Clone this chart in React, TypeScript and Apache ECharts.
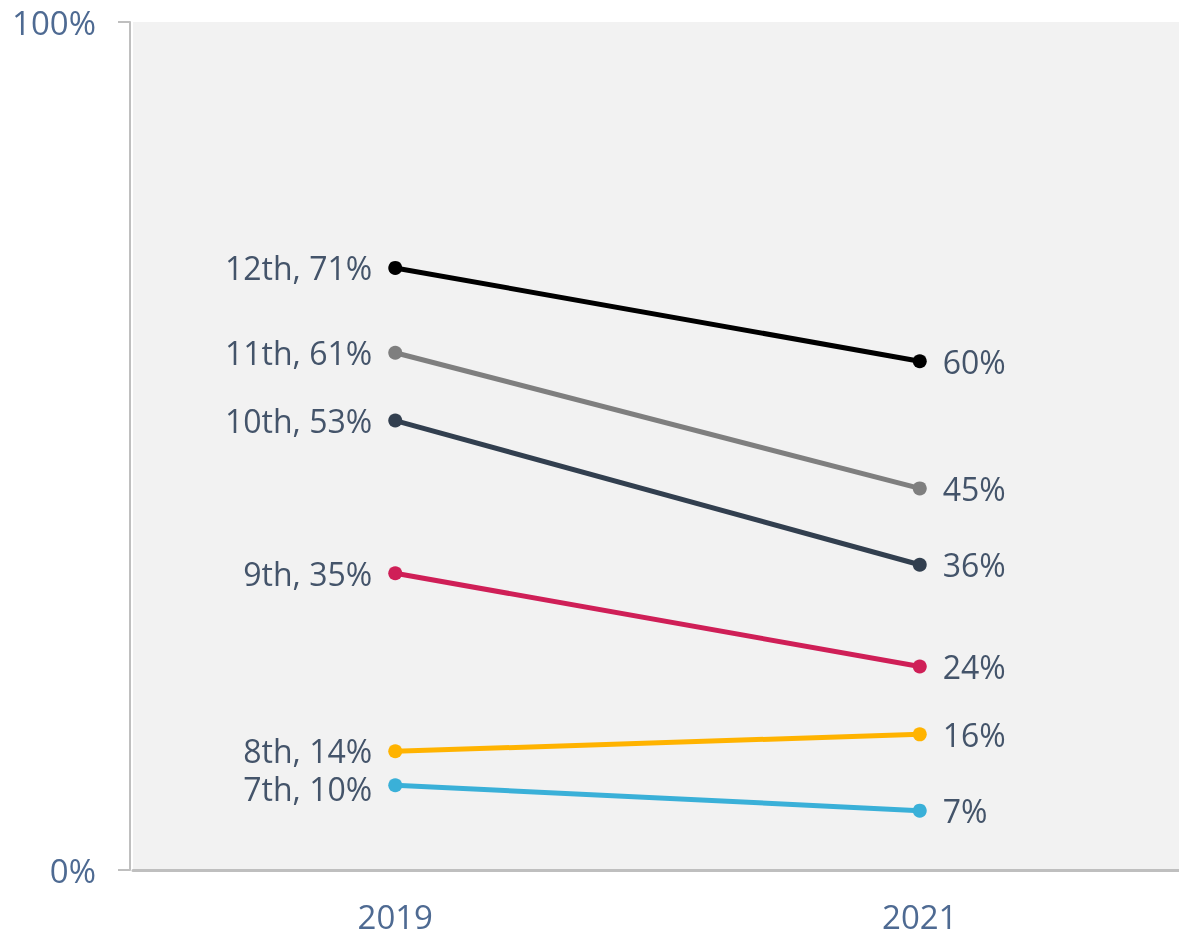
import React, { useEffect, useRef } from "react";
import * as echarts from "echarts";

const years = ["2019", "2021"];
const grades = ["12th", "11th", "10th", "9th", "8th", "7th"];
const values2019 = [71, 61, 53, 35, 14, 10];
const values2021 = [60, 45, 36, 24, 16, 7];
const colors = ["#000000", "#7f7f7f", "#323f4f", "#cf1f57", "#ffb300", "#3ab0d8"];
const yTicks = [0, 100];

const FONT = "'Open Sans', 'Noto Sans', sans-serif";
const LABEL_COLOR = "#44546a";
const AXIS_LABEL_COLOR = "#4e6a92";

export default function App() {
  const ref = useRef<HTMLDivElement>(null);
  useEffect(() => {
    const chart = echarts.init(ref.current!, undefined, { renderer: "svg" });
    const series = grades.map((g, i) => ({
      name: g,
      type: "line",
      data: [
        {
          value: values2019[i],
          label: {
            show: true,
            position: "left",
            distance: 16,
            offset: g === "7th" ? [0, 3] : g === "8th" ? [0, -1] : [0, 0],
            formatter: `${g}, ${values2019[i]}%`,
          },
        },
        {
          value: values2021[i],
          label: {
            show: true,
            position: "right",
            distance: 16,
            formatter: `${values2021[i]}%`,
          },
        },
      ],
      symbol: "circle",
      symbolSize: 14,
      lineStyle: { color: colors[i], width: 5 },
      itemStyle: { color: colors[i] },
      label: { color: LABEL_COLOR, fontSize: 32, lineHeight: 30, fontFamily: FONT },
      emphasis: { disabled: true },
    }));
    chart.setOption({
      animation: false,
      grid: {
        left: 133,
        right: 0,
        top: 22,
        bottom: 67,
        show: true,
        backgroundColor: "#f2f2f2",
        borderWidth: 0,
      },
      xAxis: {
        type: "category",
        data: years,
        boundaryGap: true,
        axisLine: { lineStyle: { color: "#bfbfbf", width: 3 } },
        axisTick: { show: false },
        axisLabel: { color: AXIS_LABEL_COLOR, fontSize: 33, lineHeight: 32, fontFamily: FONT, margin: 30 },
      },
      yAxis: {
        type: "value",
        offset: 3,
        min: yTicks[0],
        max: yTicks[yTicks.length - 1],
        interval: 100,
        axisLine: { show: true, lineStyle: { color: "#bfbfbf", width: 2 } },
        axisTick: { show: true, length: 12, lineStyle: { color: "#bfbfbf", width: 2 } },
        splitLine: { show: false },
        axisLabel: {
          color: AXIS_LABEL_COLOR,
          fontSize: 33,
          fontFamily: FONT,
          margin: 34,
          formatter: "{value}%",
        },
      },
      series,
    });
    return () => chart.dispose();
  }, []);
  return <div ref={ref} style={{ position: "fixed", left: 0, top: 0, width: 1182, height: 937 }} />;
}
